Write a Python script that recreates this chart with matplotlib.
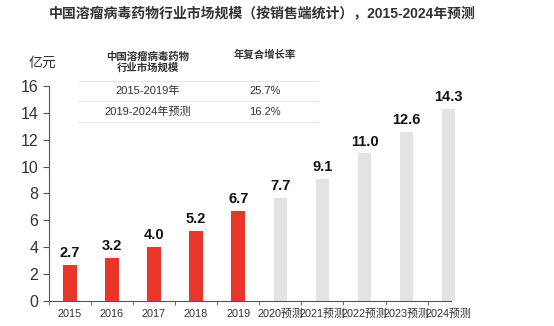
import matplotlib.pyplot as plt

plt.rcParams['font.family'] = ['Liberation Sans', 'Noto Sans CJK SC', 'DejaVu Sans']

years = ['2015', '2016', '2017', '2018', '2019',
         '2020预测', '2021预测', '2022预测', '2023预测', '2024预测']
values = [2.7, 3.2, 4.0, 5.2, 6.7, 7.7, 9.1, 11.0, 12.6, 14.3]
is_forecast = [False] * 5 + [True] * 5

table_header = ['中国溶瘤病毒药物\n行业市场规模', '年复合增长率']
table_rows = [['2015-2019年', '25.7%'], ['2019-2024年预测', '16.2%']]

red = '#E8372A'
grey = '#E3E3E3'

fig = plt.figure(figsize=(5.54, 3.26), dpi=100)
ax = fig.add_axes([0.088, 0.077, 0.76, 0.659])

colors = [grey if f else red for f in is_forecast]
x = list(range(len(years)))
ax.bar(x, values, width=0.32, color=colors)
for i, v in enumerate(values):
    ax.text(i, v + 0.35, f'{v:.1f}', ha='center', va='bottom',
            fontsize=10.5, fontweight='bold', color='#111111')

ax.set_xlim(-0.5, 9.5)
ax.set_ylim(0, 16)
ax.set_yticks(range(0, 17, 2))
ax.set_xticks(x)
ax.set_xticklabels(years, fontsize=7.8, color='#333333')
ax.set_xticks([i - 0.5 for i in range(10)], minor=True)
ax.tick_params(axis='x', which='major', length=0, pad=6)
ax.tick_params(axis='x', which='minor', length=3, direction='out', color='#555555')
ax.tick_params(axis='y', labelsize=11.5, length=4, color='#555555', labelcolor='#333333')
for s in ['top', 'right']:
    ax.spines[s].set_visible(False)
ax.spines['left'].set_color('#555555')
ax.spines['bottom'].set_color('#555555')
ax.spines['bottom'].set_bounds(-0.5, 9.05)

fig.text(0.473, 0.955, '中国溶瘤病毒药物行业市场规模（按销售端统计），2015-2024年预测',
         ha='center', va='center', fontsize=10, fontweight='bold', color='#333333')
fig.text(0.077, 0.806, '亿元', ha='center', va='center', fontsize=10, color='#333333')

# small table on top-left
col_x = [148 / 554, 265 / 554]
fig.text(col_x[0], 1 - 62 / 326, table_header[0], ha='center', va='center',
         fontsize=7.5, fontweight='bold', color='#333333', linespacing=1.1)
fig.text(col_x[1], 1 - 55 / 326, table_header[1], ha='center', va='center',
         fontsize=7.5, fontweight='bold', color='#333333')
row_y = [91, 112]
for (a, b), y in zip(table_rows, row_y):
    fig.text(col_x[0], 1 - y / 326, a, ha='center', va='center', fontsize=8, color='#333333')
    fig.text(col_x[1], 1 - y / 326, b, ha='center', va='center', fontsize=8, color='#333333')
for y in [81, 101, 122]:
    fig.add_artist(plt.Line2D([78 / 554, 318 / 554], [1 - y / 326, 1 - y / 326],
                              color='#E6E6E6', lw=0.8))

fig.savefig('out.png', dpi=100)
